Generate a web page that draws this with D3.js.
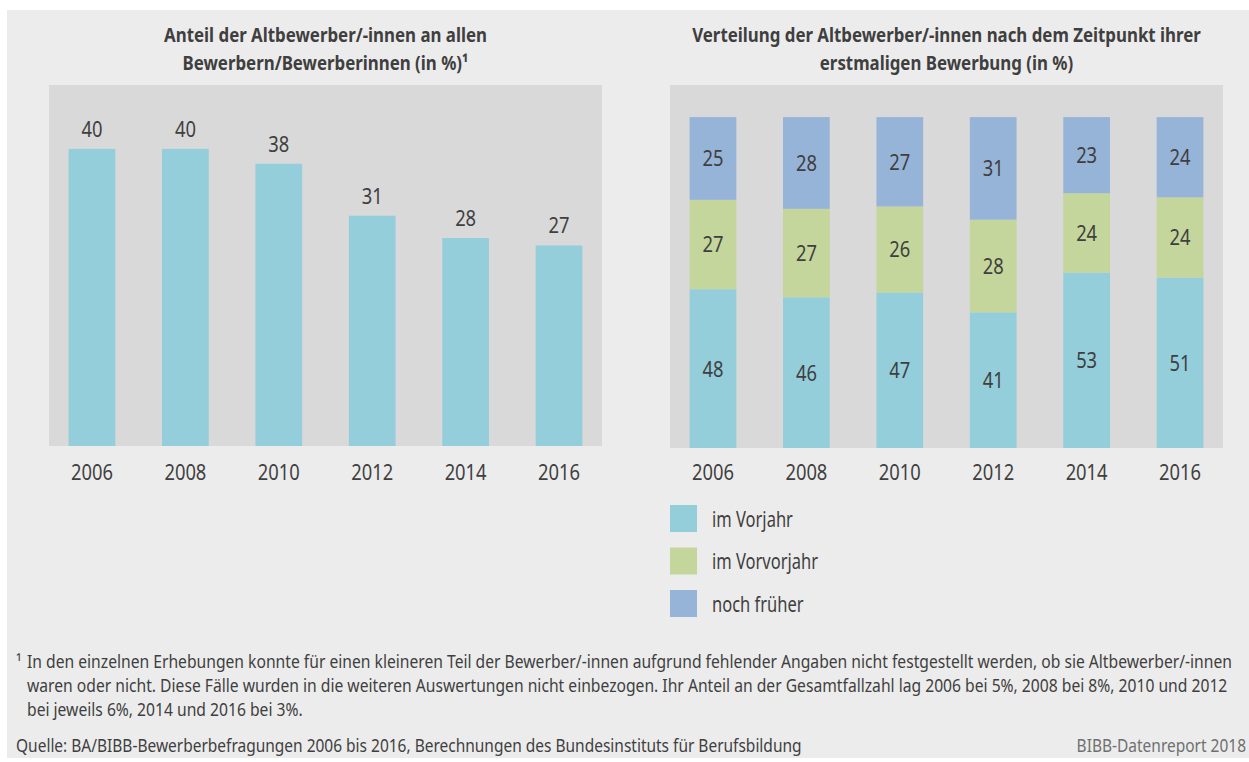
<!DOCTYPE html>
<html>
<head>
<meta charset="utf-8">
<script src="https://cdn.jsdelivr.net/npm/d3@7"></script>
<style>
  html, body { margin: 0; padding: 0; background: #ffffff; }
  svg { display: block; }
</style>
</head>
<body>
<svg id="chart" width="1249" height="762"></svg>
<script>
// ---------- data ----------
const years = ["2006", "2008", "2010", "2012", "2014", "2016"];
const shareAlt = [40, 40, 38, 31, 28, 27];
const imVorjahr = [48, 46, 47, 41, 53, 51];
const imVorvorjahr = [27, 27, 26, 28, 24, 24];
const nochFrueher = [25, 28, 27, 31, 23, 24];
const seriesNames = ["im Vorjahr", "im Vorvorjahr", "noch früher"];
const leftTitle = ["Anteil der Altbewerber/-innen an allen", "Bewerbern/Bewerberinnen (in %)\u00B9"];
const rightTitle = ["Verteilung der Altbewerber/-innen nach dem Zeitpunkt ihrer", "erstmaligen Bewerbung (in %)"];
const footnoteLines = [
  "In den einzelnen Erhebungen konnte für einen kleineren Teil der Bewerber/-innen aufgrund fehlender Angaben nicht festgestellt werden, ob sie Altbewerber/-innen",
  "waren oder nicht. Diese Fälle wurden in die weiteren Auswertungen nicht einbezogen. Ihr Anteil an der Gesamtfallzahl lag 2006 bei 5%, 2008 bei 8%, 2010 und 2012",
  "bei jeweils 6%, 2014 und 2016 bei 3%."
];
const sourceText = "Quelle: BA/BIBB-Bewerberbefragungen 2006 bis 2016, Berechnungen des Bundesinstituts für Berufsbildung";
const creditText = "BIBB-Datenreport 2018";

// ---------- style ----------
const FONT = "'Noto Sans','Open Sans','DejaVu Sans',sans-serif";
const TEXT = "#3f3f3f";
const colors = ["#94cedb", "#c4d69b", "#96b3d8"];

const svg = d3.select("#chart");

// measure natural width to derive a horizontal condensing factor per text class
function measure(str, size, weight) {
  const t = svg.append("text").attr("font-family", FONT).attr("font-size", size)
    .attr("font-weight", weight || "normal").text(str);
  const w = t.node().getComputedTextLength();
  t.remove();
  return w;
}
const S_TITLE = 323 / measure(leftTitle[0], 20, "bold");
const S_NUM = 42 / measure("2006", 22);
const S_LEG = 81 / measure(seriesNames[0], 21);
const S_FOOT = 1206 / measure(footnoteLines[0], 18);
const S_SRC = 786 / measure(sourceText, 18);

function label(parent, x, y, str, size, sx, opts) {
  opts = opts || {};
  return parent.append("text")
    .attr("transform", `translate(${x},${y}) scale(${sx},1)`)
    .attr("text-anchor", opts.anchor || "start")
    .attr("dy", opts.dy || null)
    .attr("font-family", FONT).attr("font-size", size)
    .attr("font-weight", opts.weight || "normal")
    .attr("fill", opts.fill || TEXT)
    .text(str);
}

// outer panel
svg.append("rect").attr("x", 7).attr("y", 10).attr("width", 1249 - 7).attr("height", 748).attr("fill", "#ececec");

// ---------- left chart ----------
const xL = d3.scaleBand().domain(years).range([49, 602]).paddingInner(0.5).paddingOuter(0.21);
const yL = d3.scaleLinear().domain([0, 48.6]).range([446, 85]);

svg.append("rect").attr("x", 49).attr("y", 85).attr("width", 602 - 49).attr("height", 446 - 85).attr("fill", "#d9d9d9");

const gL = svg.append("g");
gL.selectAll("rect.bar").data(years).join("rect")
  .attr("class", "bar")
  .attr("x", d => xL(d))
  .attr("width", xL.bandwidth())
  .attr("y", (d, i) => yL(shareAlt[i]))
  .attr("height", (d, i) => yL(0) - yL(shareAlt[i]))
  .attr("fill", colors[0]);

years.forEach((yr, i) => {
  label(gL, xL(yr) + xL.bandwidth() / 2, yL(shareAlt[i]) - 12, shareAlt[i], 22, S_NUM, { anchor: "middle" });
});

const axL = svg.append("g").attr("transform", "translate(0,446)")
  .call(d3.axisBottom(xL).tickSize(0).tickPadding(0));
axL.select(".domain").remove();
axL.selectAll(".tick text").attr("font-family", FONT).attr("font-size", 22).attr("fill", TEXT)
  .attr("dy", null).attr("y", 0).attr("transform", `translate(0,34) scale(${S_NUM},1)`);

leftTitle.forEach((t, i) => {
  label(svg, 325.5, 42 + i * 28, t, 20, S_TITLE, { anchor: "middle", weight: "bold" });
});

// ---------- right chart ----------
const xR = d3.scaleBand().domain(years).range([670, 1223]).paddingInner(0.5).paddingOuter(0.21);
const yR = d3.scaleLinear().domain([0, 1.097]).range([448, 85]);

svg.append("rect").attr("x", 670).attr("y", 85).attr("width", 1223 - 670).attr("height", 448 - 85).attr("fill", "#d9d9d9");

const table = years.map((y, i) => ({ year: y, a: imVorjahr[i], b: imVorvorjahr[i], c: nochFrueher[i] }));
const keys = ["a", "b", "c"];
const stacked = d3.stack().keys(keys).offset(d3.stackOffsetExpand)(table);

const gR = svg.append("g");
stacked.forEach((layer, li) => {
  gR.append("g").selectAll("rect").data(layer).join("rect")
    .attr("x", d => xR(d.data.year))
    .attr("width", xR.bandwidth())
    .attr("y", d => yR(d[1]))
    .attr("height", d => yR(d[0]) - yR(d[1]))
    .attr("fill", colors[li]);
  layer.forEach(d => {
    label(gR, xR(d.data.year) + xR.bandwidth() / 2, (yR(d[0]) + yR(d[1])) / 2, d.data[keys[li]], 22, S_NUM,
      { anchor: "middle", dy: "0.36em" });
  });
});

const axR = svg.append("g").attr("transform", "translate(0,448)")
  .call(d3.axisBottom(xR).tickSize(0).tickPadding(0));
axR.select(".domain").remove();
axR.selectAll(".tick text").attr("font-family", FONT).attr("font-size", 22).attr("fill", TEXT)
  .attr("dy", null).attr("y", 0).attr("transform", `translate(0,32) scale(${S_NUM},1)`);

rightTitle.forEach((t, i) => {
  label(svg, 946.5, 42 + i * 28, t, 20, S_TITLE, { anchor: "middle", weight: "bold" });
});

// legend
const lg = svg.append("g");
seriesNames.forEach((name, i) => {
  const yTop = 505 + i * 42.5;
  lg.append("rect").attr("x", 670).attr("y", yTop).attr("width", 27).attr("height", 27).attr("fill", colors[i]);
  label(lg, 712, yTop + 14, name, 21, S_LEG, { dy: "0.36em" });
});

// footnote
label(svg, 16, 668, "\u00B9", 18, S_FOOT);
footnoteLines.forEach((t, i) => {
  label(svg, 27, 668 + i * 24, t, 18, S_FOOT);
});
label(svg, 16, 752, sourceText, 18, S_SRC);
label(svg, 1246, 752, creditText, 18, S_SRC, { anchor: "end", fill: "#707070" });
</script>
</body>
</html>
